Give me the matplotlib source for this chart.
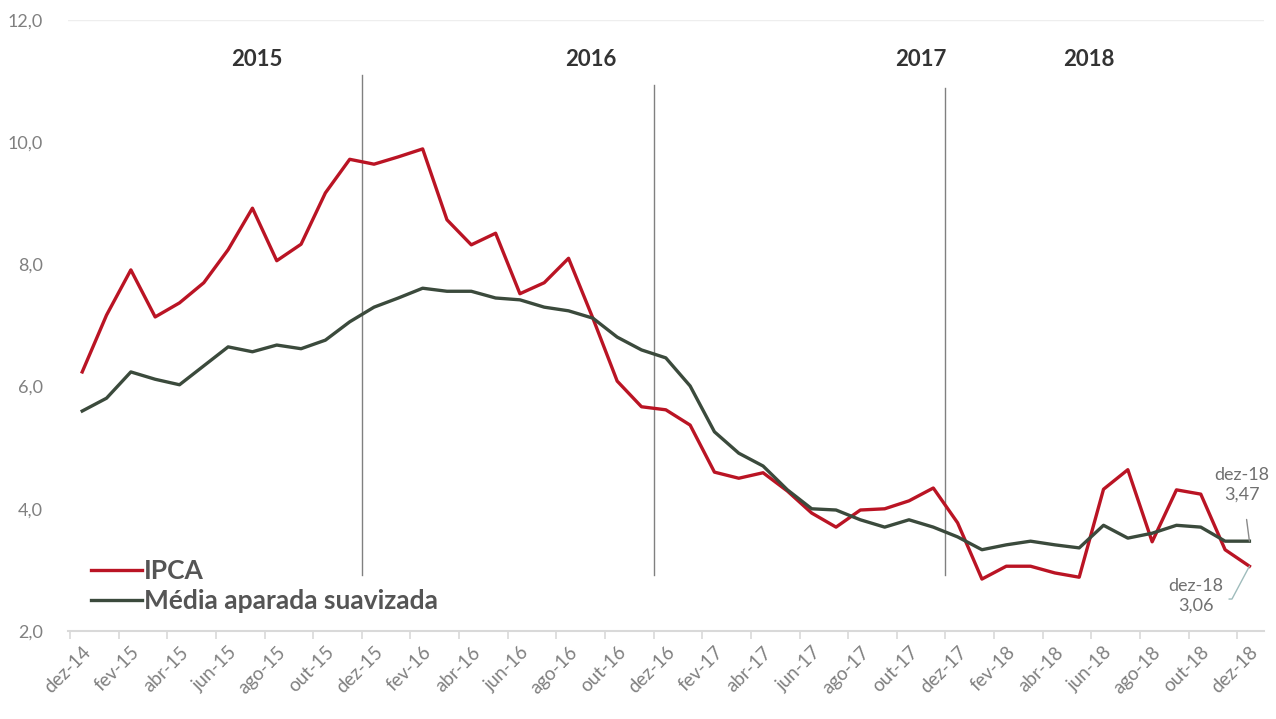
import matplotlib.pyplot as plt
import numpy as np

plt.rcParams['font.family'] = ['Lato', 'DejaVu Sans']

# monthly series, dez-14 .. dez-18
meses = ['jan', 'fev', 'mar', 'abr', 'mai', 'jun', 'jul', 'ago', 'set', 'out', 'nov', 'dez']
labels = ['dez-14'] + [f'{m}-{a}' for a in ('15', '16', '17', '18') for m in meses]

ipca = [6.24, 7.17, 7.91, 7.14, 7.37, 7.70, 8.24, 8.92, 8.06, 8.33, 9.17, 9.72,
        9.64, 9.76, 9.89, 8.73, 8.32, 8.51, 7.52, 7.70, 8.10, 7.12, 6.09, 5.67,
        5.62, 5.37, 4.60, 4.50, 4.59, 4.29, 3.93, 3.70, 3.98, 4.00, 4.13, 4.34,
        3.77, 2.85, 3.06, 3.06, 2.95, 2.88, 4.32, 4.64, 3.46, 4.31, 4.24, 3.33,
        3.06]

media = [5.60, 5.81, 6.24, 6.12, 6.03, 6.34, 6.65, 6.57, 6.68, 6.62, 6.76, 7.06,
         7.30, 7.45, 7.61, 7.56, 7.56, 7.45, 7.42, 7.30, 7.24, 7.12, 6.81, 6.60,
         6.47, 6.01, 5.26, 4.91, 4.70, 4.31, 4.00, 3.98, 3.82, 3.70, 3.82, 3.70,
         3.54, 3.33, 3.41, 3.47, 3.41, 3.36, 3.73, 3.52, 3.60, 3.73, 3.70, 3.47,
         3.47]

anos = ['2015', '2016', '2017', '2018']
ano_pos = [7.2, 20.9, 34.5, 41.4]
quebras = [11.5, 23.5, 35.5]


def br(v):
    return f'{v:.2f}'.replace('.', ',')


x = np.arange(len(labels))

fig = plt.figure(figsize=(12.76, 7.19), dpi=100)
ax = fig.add_axes([0.053, 0.1224, 0.9376, 0.8498])

ax.plot(x, ipca, color='#BA1424', lw=2.4, label='IPCA', zorder=3)
ax.plot(x, media, color='#3B4A3C', lw=2.4, label='Média aparada suavizada', zorder=3)

# year separators
tops = [11.1, 10.94, 10.89]
for q, t in zip(quebras, tops):
    ax.plot([q, q], [2.92, t], color='#808080', lw=1, zorder=2)

for a, p in zip(anos, ano_pos):
    ax.text(p, 11.35, a, ha='center', va='center', fontsize=16,
            fontweight='bold', color='#333333')

# end-point callouts
ax.annotate(f'dez-18\n{br(media[-1])}', xy=(x[-1], media[-1]), xytext=(47.7, 4.39),
            ha='center', va='center', fontsize=13, color='#707070',
            linespacing=1.3,
            arrowprops=dict(arrowstyle='-', color='#8a8a8a', lw=1,
                            shrinkA=10, shrinkB=0))
ax.annotate(f'dez-18\n{br(ipca[-1])}', xy=(x[-1], ipca[-1]), xytext=(45.8, 2.57),
            ha='center', va='center', fontsize=13, color='#707070',
            linespacing=1.3,
            arrowprops=dict(arrowstyle='-', color='#9fbcbc', lw=1,
                            shrinkA=2, shrinkB=0,
                            connectionstyle='angle,angleA=0,angleB=62,rad=0',
                            relpos=(1.0, 0.42)))

ax.set_xlim(-0.6, 48.6)
ax.set_ylim(2, 12)
ax.set_yticks(np.arange(2, 12.1, 2))
ax.set_yticklabels([f'{v:.1f}'.replace('.', ',') for v in np.arange(2, 12.1, 2)])
ax.set_xticks(x[::2])
ax.set_xticklabels(labels[::2], rotation=45, ha='right', va='top',
                   rotation_mode='anchor')
ax.set_xticks(np.arange(-0.5, 48.6, 2), minor=True)

ax.tick_params(axis='y', length=0, labelsize=13, labelcolor='#808080', pad=18)
ax.tick_params(axis='x', which='major', length=0, labelsize=13.5,
               labelcolor='#808080', pad=9)
ax.tick_params(axis='x', which='minor', length=6, color='#d9d9d9', width=1.2)

for s in ['left', 'right', 'top']:
    ax.spines[s].set_visible(False)
ax.spines['bottom'].set_color('#d9d9d9')
ax.spines['bottom'].set_linewidth(1.5)
ax.axhline(12, color='#eeeeee', lw=1)

leg = ax.legend(loc='lower left', bbox_to_anchor=(0.0, -0.01), frameon=False,
                handlelength=1.9, handletextpad=0.1, labelspacing=0.25,
                prop={'size': 19, 'weight': 'bold'})
for t in leg.get_texts():
    t.set_color('#555555')

fig.savefig('out.png', dpi=100, facecolor='white')
